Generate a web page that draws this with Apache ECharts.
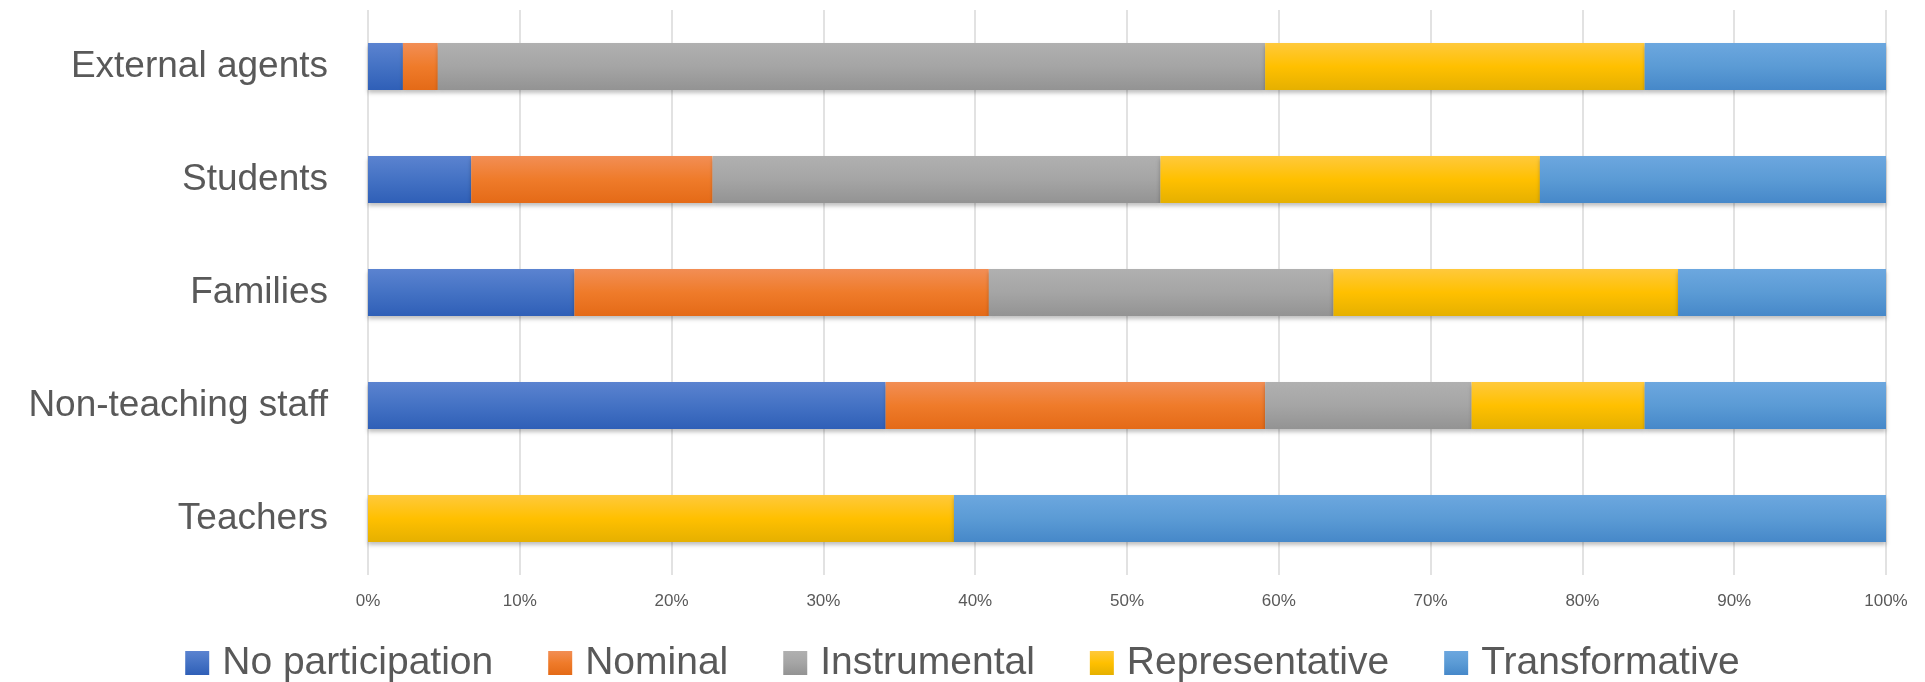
<!DOCTYPE html>
<html>
<head>
<meta charset="utf-8">
<script src="https://cdn.jsdelivr.net/npm/echarts@6/dist/echarts.min.js"></script>
<style>
html,body{margin:0;padding:0;background:#fff;}
#chart{width:1925px;height:682px;}
</style>
</head>
<body>
<div id="chart"></div>
<script>
// Categories (bottom to top as drawn by the category axis)
const categories = ['Teachers', 'Non-teaching staff', 'Families', 'Students', 'External agents'];
const seriesNames = ['No participation', 'Nominal', 'Instrumental', 'Representative', 'Transformative'];
// Percent values per category (same order as categories)
const noParticipation = [0, 34.1, 13.6, 6.8, 2.3];
const nominal         = [0, 25.0, 27.3, 15.9, 2.3];
const instrumental    = [0, 13.6, 22.7, 29.5, 54.5];
const representative  = [38.6, 11.4, 22.7, 25.0, 25.0];
const transformative  = [61.4, 15.9, 13.7, 22.8, 15.9];
const xTickValues = [0, 10, 20, 30, 40, 50, 60, 70, 80, 90, 100];

const values = [noParticipation, nominal, instrumental, representative, transformative];
const gradients = [
  ['#5b83d0', '#4472c4', '#2f5fb7'],
  ['#f28e55', '#ef7b2a', '#e46a17'],
  ['#b0b0b0', '#a5a5a5', '#939393'],
  ['#ffc93c', '#ffc000', '#e5b000'],
  ['#6ca7df', '#5b9bd5', '#4688c9']
];
function grad(c){
  return new echarts.graphic.LinearGradient(0,0,0,1,[
    {offset:0,color:c[0]},{offset:0.5,color:c[1]},{offset:1,color:c[2]}
  ]);
}

const chart = echarts.init(document.getElementById('chart'), null, {renderer:'canvas'});
const font = 'Liberation Sans, Arial, sans-serif';
chart.setOption({
  animation:false,
  backgroundColor:'#ffffff',
  grid:{left:368, right:39, top:10, bottom:107, containLabel:false},
  xAxis:{
    type:'value', min:xTickValues[0], max:xTickValues[xTickValues.length-1], interval:10,
    axisLine:{show:false}, axisTick:{show:false},
    splitLine:{show:true, lineStyle:{color:'#d9d9d9', width:1.5}},
    axisLabel:{formatter:'{value}%', color:'#595959', fontSize:17, fontFamily:font, margin:18}
  },
  yAxis:{
    type:'category', data:categories,
    axisLine:{show:false}, axisTick:{show:false},
    axisLabel:{color:'#595959', fontSize:37, fontFamily:font, margin:40}
  },
  legend:{
    data:seriesNames, left:'center', top:638,
    itemWidth:24, itemHeight:24, itemGap:55, icon:'rect',
    textStyle:{color:'#595959', fontSize:39, fontFamily:font, lineHeight:40, padding:[0,0,0,8]}
  },
  series: seriesNames.map((n,i)=>({
    name:n, type:'bar', stack:'total', barWidth:47,
    data:values[i],
    itemStyle:{color:grad(gradients[i]), shadowColor:'rgba(0,0,0,0.25)', shadowBlur:4, shadowOffsetY:3}
  }))
});
</script>
</body>
</html>
